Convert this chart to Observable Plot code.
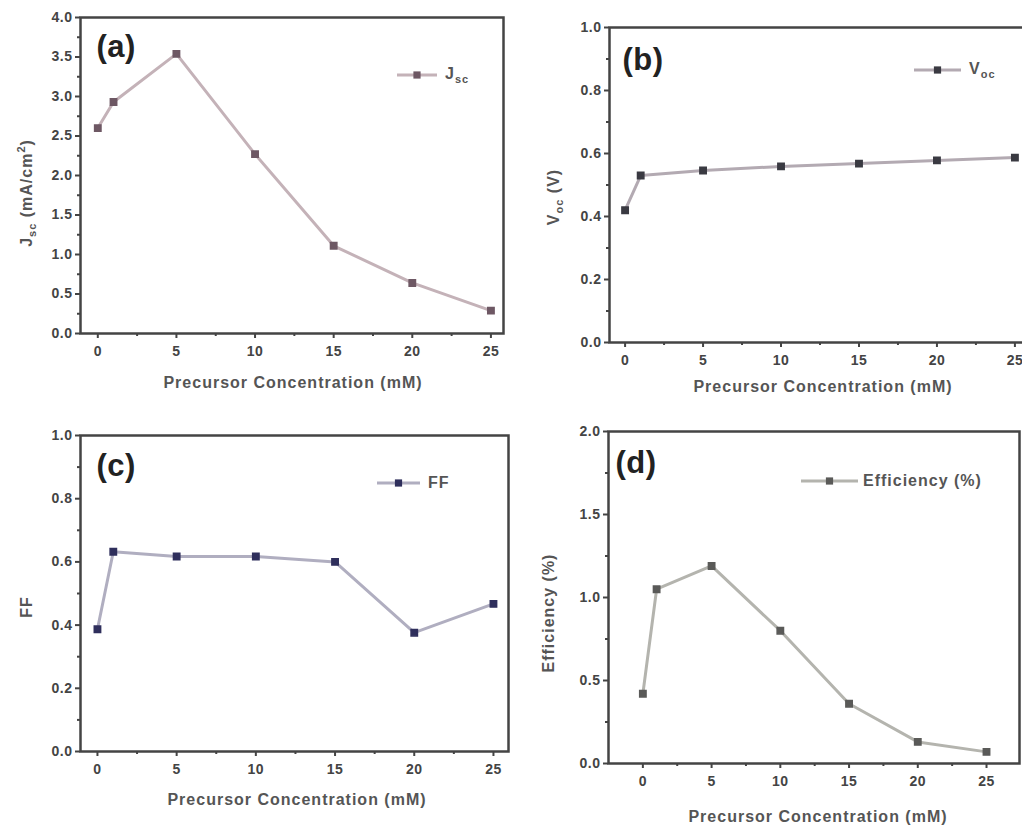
<!DOCTYPE html>
<html><head><meta charset="utf-8">
<script src="https://cdn.jsdelivr.net/npm/d3@7"></script>
<script src="https://cdn.jsdelivr.net/npm/@observablehq/plot@0.6"></script>
<style>
html,body{margin:0;padding:0;background:#fff;overflow:hidden;width:1022px;height:826px;}
#wrap{position:relative;width:1022px;height:826px;overflow:hidden;font-family:"Liberation Sans",Arial,sans-serif;}
.panel{position:absolute;max-width:none !important;}
.lbl{position:absolute;font-weight:bold;color:#555;font-size:16px;letter-spacing:1px;white-space:nowrap;line-height:1;}
.ylab{transform:translate(-50%,-50%) rotate(-90deg);}
.xlab{transform:translate(-50%,-50%);}
.leg{position:absolute;display:flex;align-items:center;font-weight:bold;font-size:16px;letter-spacing:1px;color:#555;height:20px;white-space:nowrap;}
.leg svg{display:block;}
sub{font-size:11px;vertical-align:-4px;}
</style></head><body><div id="wrap"></div>
<script>
// ---- data ----
const concentration = [0, 1, 5, 10, 15, 20, 25];          // Precursor Concentration (mM)
const jsc = [2.60, 2.93, 3.54, 2.27, 1.11, 0.64, 0.29];     // mA/cm2
const voc = [0.420, 0.530, 0.546, 0.559, 0.568, 0.578, 0.587]; // V
const ff = [0.387, 0.632, 0.617, 0.617, 0.600, 0.376, 0.467];
const efficiency = [0.42, 1.05, 1.19, 0.80, 0.36, 0.13, 0.07]; // %

const xTicks = [0, 5, 10, 15, 20, 25];
const xMinorTicks = [2.5, 7.5, 12.5, 17.5, 22.5];
const jscTicks = [0, 0.5, 1, 1.5, 2, 2.5, 3, 3.5, 4];
const jscMinor = [0.25, 0.75, 1.25, 1.75, 2.25, 2.75, 3.25, 3.75];
const unitTicks = [0, 0.2, 0.4, 0.6, 0.8, 1.0];
const unitMinor = [0.1, 0.3, 0.5, 0.7, 0.9];
const effTicks = [0, 0.5, 1, 1.5, 2];
const effMinor = [0.25, 0.75, 1.25, 1.75];

const panelLetters = ["(a)", "(b)", "(c)", "(d)"];
const xTitle = "Precursor Concentration (mM)";

const wrap = document.getElementById("wrap");
const FONT = '"Liberation Sans", Arial, sans-serif';

function panel(o) {
  const data = concentration.map((x, i) => ({x, y: o.values[i]}));
  const fmt = d => d.toFixed(1);
  const ax = {stroke: "#444", strokeWidth: 2, fill: "#444"};
  const p = Plot.plot({
    width: o.width, height: o.height,
    marginLeft: o.m[0], marginRight: o.m[1], marginTop: o.m[2], marginBottom: o.m[3],
    x: {domain: o.xDomain, label: null},
    y: {domain: o.yDomain, label: null},
    style: {fontFamily: FONT, fontSize: "14px", fontWeight: "bold", letterSpacing: "0.5px", color: "#444", background: "transparent", overflow: "visible", maxWidth: "none"},
    marks: [
      Plot.axisX(xTicks, {...ax, tickSize: 5, tickPadding: 8, tickFormat: d => String(d), label: null}),
      Plot.axisX(xMinorTicks, {...ax, tickSize: 3, tickFormat: () => "", label: null}),
      Plot.axisY(o.yTicks, {...ax, tickSize: 5, tickPadding: 3, tickFormat: fmt, label: null}),
      Plot.axisY(o.yMinor, {...ax, tickSize: 3, tickFormat: () => "", label: null}),
      Plot.line(data, {x: "x", y: "y", stroke: o.line, strokeWidth: 3}),
      Plot.dot(data, {x: "x", y: "y", symbol: "square", r: 3.6, fill: o.marker, stroke: o.marker}),
      Plot.frame({stroke: "#444", strokeWidth: 2.5}),
      Plot.text([o.letter], {frameAnchor: "top-left", dx: o.letterD[0], dy: o.letterD[1], text: d => d, fontSize: 31, fontWeight: "bold", fill: "#222", lineAnchor: "top", textAnchor: "start"})
    ]
  });
  p.classList.add("panel");
  p.style.left = o.left + "px";
  p.style.top = o.top + "px";
  p.style.maxWidth = "none";
  wrap.appendChild(p);
}

function label(html, cx, cy, cls) {
  const d = document.createElement("div");
  d.className = "lbl " + cls;
  d.innerHTML = html;
  d.style.left = cx + "px";
  d.style.top = cy + "px";
  wrap.appendChild(d);
}

function legend(html, x, y, len, line, marker, gap) {
  const d = document.createElement("div");
  d.className = "leg";
  d.style.left = x + "px";
  d.style.top = (y - 10) + "px";
  d.innerHTML = `<svg width="${len}" height="20"><line x1="0" x2="${len}" y1="10" y2="10" stroke="${line}" stroke-width="3"/><rect x="${len/2-3.6}" y="6.4" width="7.2" height="7.2" fill="${marker}"/></svg><span style="margin-left:${gap}px">${html}</span>`;
  wrap.appendChild(d);
}

panel({values: jsc, left: 0, top: 0, width: 511, height: 400, m: [80, 8, 17, 67],
  xDomain: [-1.1, 25.8], yDomain: [0, 4], yTicks: jscTicks, yMinor: jscMinor,
  line: "#c4b2b8", marker: "#6e5864", letter: panelLetters[0], letterD: [16, 17]});
panel({values: voc, left: 511, top: 0, width: 525, height: 400, m: [98, 6, 27, 58],
  xDomain: [-1, 26], yDomain: [0, 1], yTicks: unitTicks, yMinor: unitMinor,
  line: "#b3aab2", marker: "#3a3a42", letter: panelLetters[1], letterD: [13, 20]});
panel({values: ff, left: 0, top: 413, width: 511, height: 413, m: [80, 3, 22, 75],
  xDomain: [-1.07, 25.95], yDomain: [0, 1], yTicks: unitTicks, yMinor: unitMinor,
  line: "#b0aec0", marker: "#2f2f5c", letter: panelLetters[2], letterD: [16, 18]});
panel({values: efficiency, left: 511, top: 413, width: 511, height: 413, m: [97, 3, 18, 63],
  xDomain: [-2.5, 27.4], yDomain: [0, 2], yTicks: effTicks, yMinor: effMinor,
  line: "#b4b4ae", marker: "#5a5a58", letter: panelLetters[3], letterD: [7, 19]});

// axis titles
label(xTitle, 293, 383, "xlab");
label(xTitle, 823, 387, "xlab");
label(xTitle, 297, 800, "xlab");
label(xTitle, 818, 817, "xlab");
label("J<sub>sc</sub> (mA/cm<sup style='font-size:11px'>2</sup>)", 27, 193, "ylab");
label("V<sub>oc</sub> (V)", 555, 197, "ylab");
label("FF", 27, 607, "ylab");
label("Efficiency (%)", 549, 613, "ylab");

// legends
legend("J<sub>sc</sub>", 397, 75, 40, "#c4b2b8", "#6e5864", 8);
legend("V<sub>oc</sub>", 914, 70, 47, "#b3aab2", "#3a3a42", 8);
legend("FF", 377, 483, 43, "#b0aec0", "#2f2f5c", 8);
legend("Efficiency (%)", 801, 481, 57, "#b4b4ae", "#5a5a58", 5);
</script>
</body></html>
